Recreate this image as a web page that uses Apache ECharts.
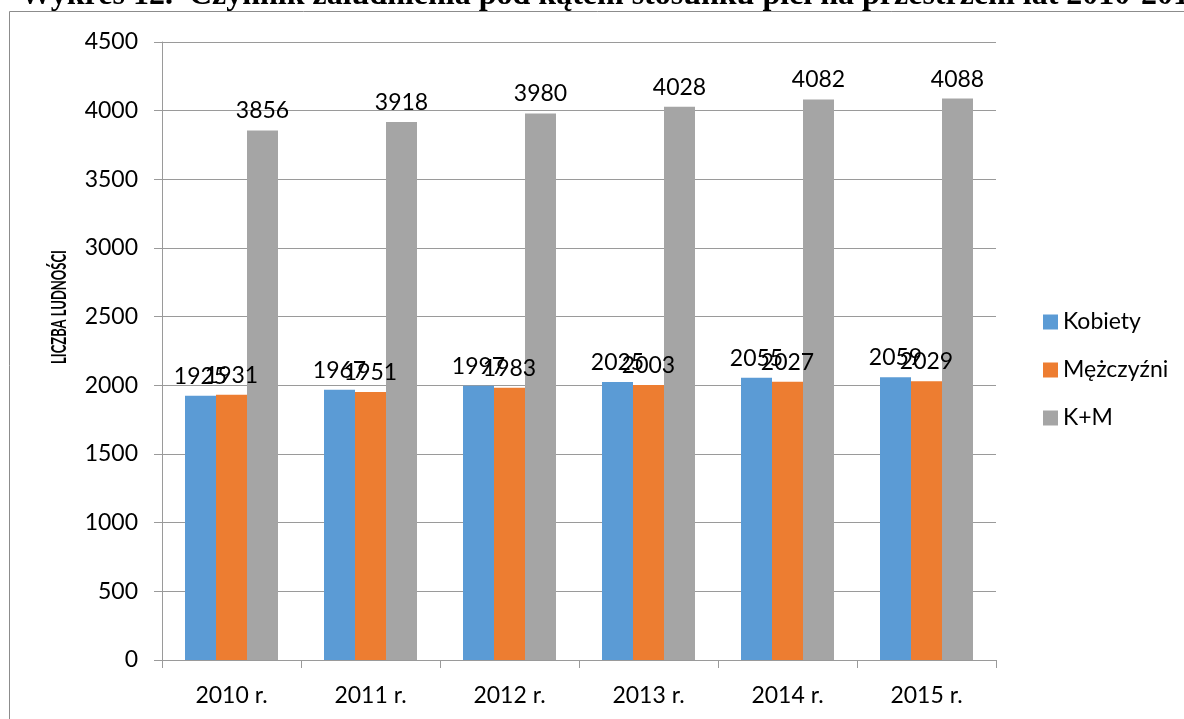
<!DOCTYPE html>
<html>
<head>
<meta charset="utf-8">
<script src="https://cdn.jsdelivr.net/npm/echarts@6/dist/echarts.min.js"></script>
<style>
  html, body { margin: 0; padding: 0; background: #fff; }
  #chart { width: 1184px; height: 719px; }
</style>
</head>
<body>
<div id="chart"></div>
<script>
// dane z wykresu
var years = ['2010 r.', '2011 r.', '2012 r.', '2013 r.', '2014 r.', '2015 r.'];
var kobiety = [1925, 1967, 1997, 2025, 2055, 2059];
var mezczyzni = [1931, 1951, 1983, 2003, 2027, 2029];
var razem = [3856, 3918, 3980, 4028, 4082, 4088];
var seriesNames = ['Kobiety', 'Mężczyźni', 'K+M'];
var colors = ['#5B9BD5', '#ED7D31', '#A5A5A5'];

var font = 'Lato, "Open Sans", sans-serif';
var lineCol = '#9a9a9a';

var chart = echarts.init(document.getElementById('chart'));

function barSeries(name, data, color) {
  return {
    name: name,
    type: 'bar',
    data: data,
    barWidth: 31,
    barGap: '0%',
    itemStyle: { color: color },
    label: {
      show: true,
      position: 'top',
      distance: 8,
      color: '#000',
      fontFamily: font,
      fontSize: 23
    },
    emphasis: { disabled: true }
  };
}

var option = {
  animation: false,
  color: colors,
  grid: {
    left: 162,
    right: 188,
    top: 42,
    bottom: 59,
    containLabel: false,
    outerBoundsMode: 'none'
  },
  legend: {
    orient: 'vertical',
    left: 1038,
    top: 304,
    itemWidth: 15,
    itemHeight: 15,
    itemGap: 22,
    icon: 'rect',
    data: seriesNames,
    textStyle: { color: '#000', fontFamily: font, fontSize: 23, lineHeight: 26 }
  },
  xAxis: {
    type: 'category',
    data: years,
    axisLine: { show: true, lineStyle: { color: lineCol, width: 1 } },
    axisTick: { show: true, inside: false, length: 8, lineStyle: { color: lineCol } },
    axisLabel: { color: '#000', fontFamily: font, fontSize: 23, margin: 24 }
  },
  yAxis: {
    type: 'value',
    min: 0,
    max: 4500,
    interval: 500,
    axisLine: { show: true, lineStyle: { color: lineCol, width: 1 } },
    axisTick: { show: true, inside: false, length: 8, lineStyle: { color: lineCol } },
    axisLabel: {
      color: '#000', fontFamily: font, fontSize: 23, margin: 24,
      formatter: function (v) { return String(v); }
    },
    splitLine: { show: true, lineStyle: { color: lineCol, width: 1 } }
  },
  graphic: [
    {
      type: 'text',
      x: 20,
      y: -4,
      style: {
        text: 'Wykres 12.  Czynnik zaludnienia pod kątem stosunku płci na przestrzeni lat 2010-2015',
        font: 'bold 32px "Liberation Serif", "Times New Roman", serif',
        fill: '#000',
        verticalAlign: 'middle'
      }
    },
    {
      type: 'rect',
      shape: { x: 9.5, y: 11.5, width: 1300, height: 800 },
      style: { fill: 'none', stroke: '#8c8c8c', lineWidth: 1 },
      silent: true
    },
    {
      // tytul osi Y, zwezony bo Calibri Bold jest wezszy niz Lato
      type: 'text',
      x: 60,
      y: 307,
      rotation: Math.PI / 2,
      scaleX: 0.65,
      style: {
        text: 'LICZBA LUDNOŚCI',
        font: 'bold 20px Lato, "Open Sans", sans-serif',
        fill: '#000',
        align: 'center',
        verticalAlign: 'middle'
      }
    }
  ],
  series: [
    barSeries(seriesNames[0], kobiety, colors[0]),
    barSeries(seriesNames[1], mezczyzni, colors[1]),
    barSeries(seriesNames[2], razem, colors[2])
  ]
};

chart.setOption(option);
</script>
</body>
</html>
